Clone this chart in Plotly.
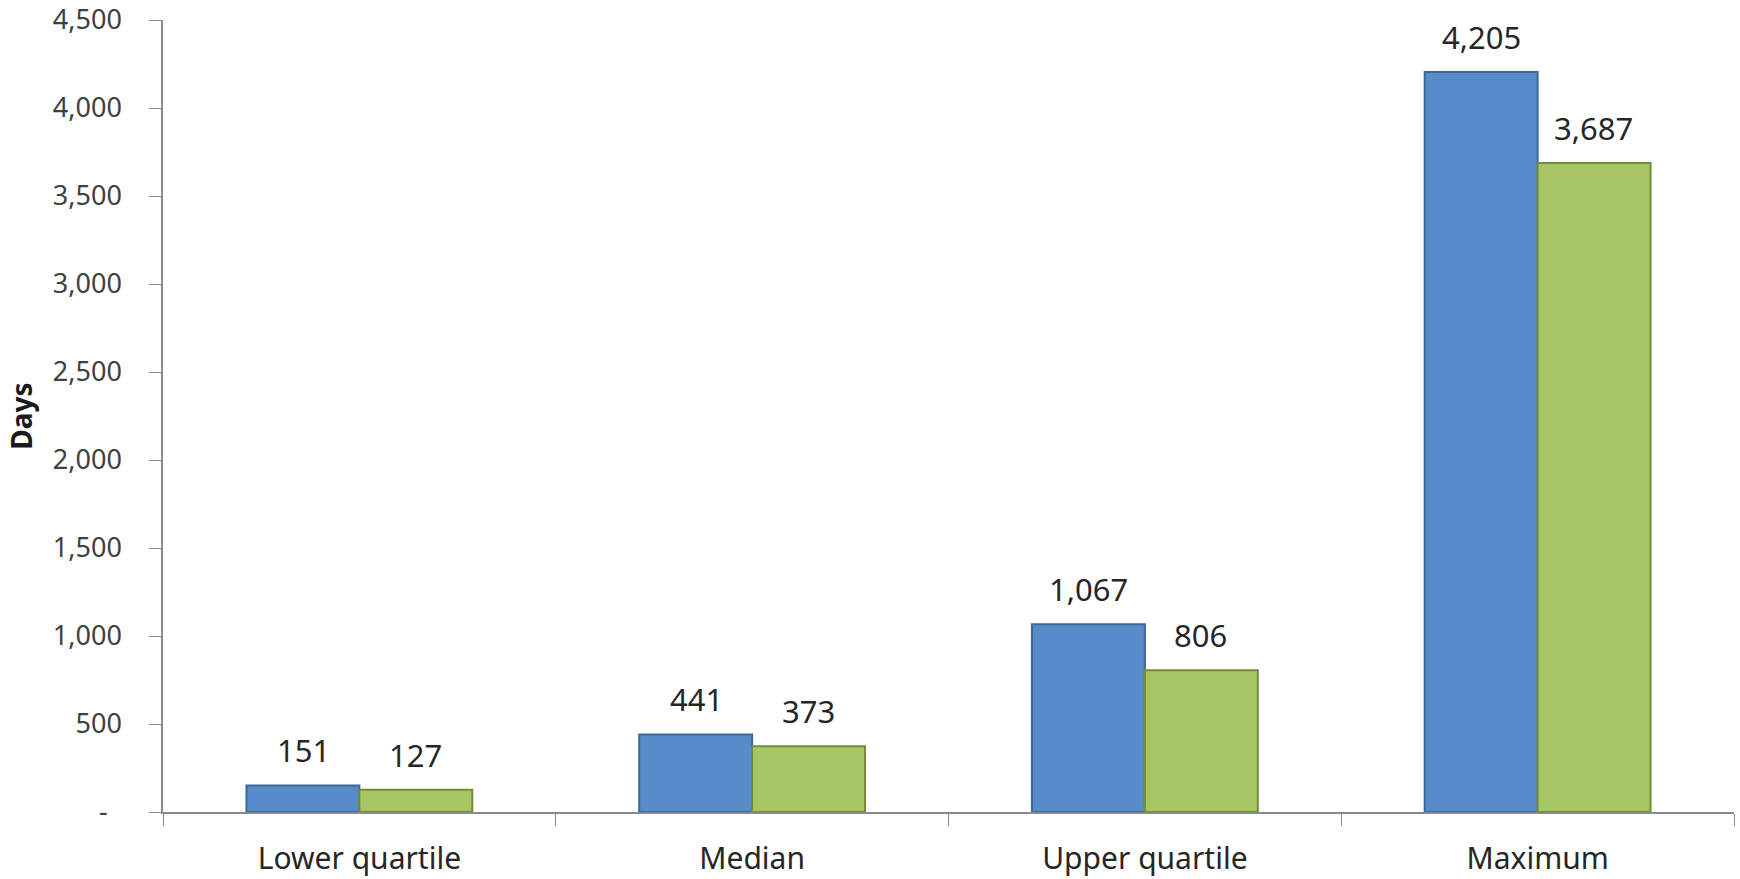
import plotly.graph_objects as go

categories = ["Lower quartile", "Median", "Upper quartile", "Maximum"]
series_a = [151, 441, 1067, 4205]
series_b = [127, 373, 806, 3687]
y_tick_vals = [0, 500, 1000, 1500, 2000, 2500, 3000, 3500, 4000, 4500]
y_tick_text = ["-\u00a0\u00a0", "500", "1,000", "1,500", "2,000", "2,500",
               "3,000", "3,500", "4,000", "4,500"]

FONT = "Noto Sans, Open Sans, sans-serif"

fig = go.Figure()
fig.add_trace(go.Bar(
    x=categories, y=series_a, name="A",
    marker=dict(color="#588bc9", line=dict(color="#3b679c", width=2)),
))
fig.add_trace(go.Bar(
    x=categories, y=series_b, name="B",
    marker=dict(color="#a5c662", line=dict(color="#718c3a", width=2)),
))

annotations = []
for cat, va, vb in zip(categories, series_a, series_b):
    for v, dx in ((va, -56), (vb, 56)):
        annotations.append(dict(
            x=cat, y=v, xref="x", yref="y", text=f"{v:,}",
            showarrow=False, xshift=dx, yshift=12, yanchor="bottom",
            font=dict(family=FONT, size=31, color="#262626"),
        ))

fig.update_layout(
    width=1740, height=879,
    margin=dict(l=163, r=6, t=20, b=67, autoexpand=False),
    paper_bgcolor="white", plot_bgcolor="white",
    barmode="group", bargap=0.425, bargroupgap=0,
    showlegend=False,
    annotations=annotations,
    font=dict(family=FONT, color="#333333"),
)
fig.update_xaxes(
    type="category",
    showline=True, linecolor="#8a8a8a", linewidth=1.5,
    ticks="outside", tickson="boundaries", ticklen=12, tickcolor="#8a8a8a",
    tickfont=dict(family=FONT, size=30, color="#262626"),
    ticklabelstandoff=19,
    showgrid=False, zeroline=False,
)
fig.update_yaxes(
    range=[0, 4500],
    tickvals=y_tick_vals, ticktext=y_tick_text,
    showline=True, linecolor="#8a8a8a", linewidth=1.5,
    ticks="outside", ticklen=12, tickcolor="#8a8a8a",
    tickfont=dict(family=FONT, size=27, color="#404040"),
    ticklabelstandoff=22,
    showgrid=False, zeroline=False,
    title=dict(text="<b>Days</b>", font=dict(family=FONT, size=28, color="#1a1a1a"), standoff=12),
)

fig.write_html("out.html")
